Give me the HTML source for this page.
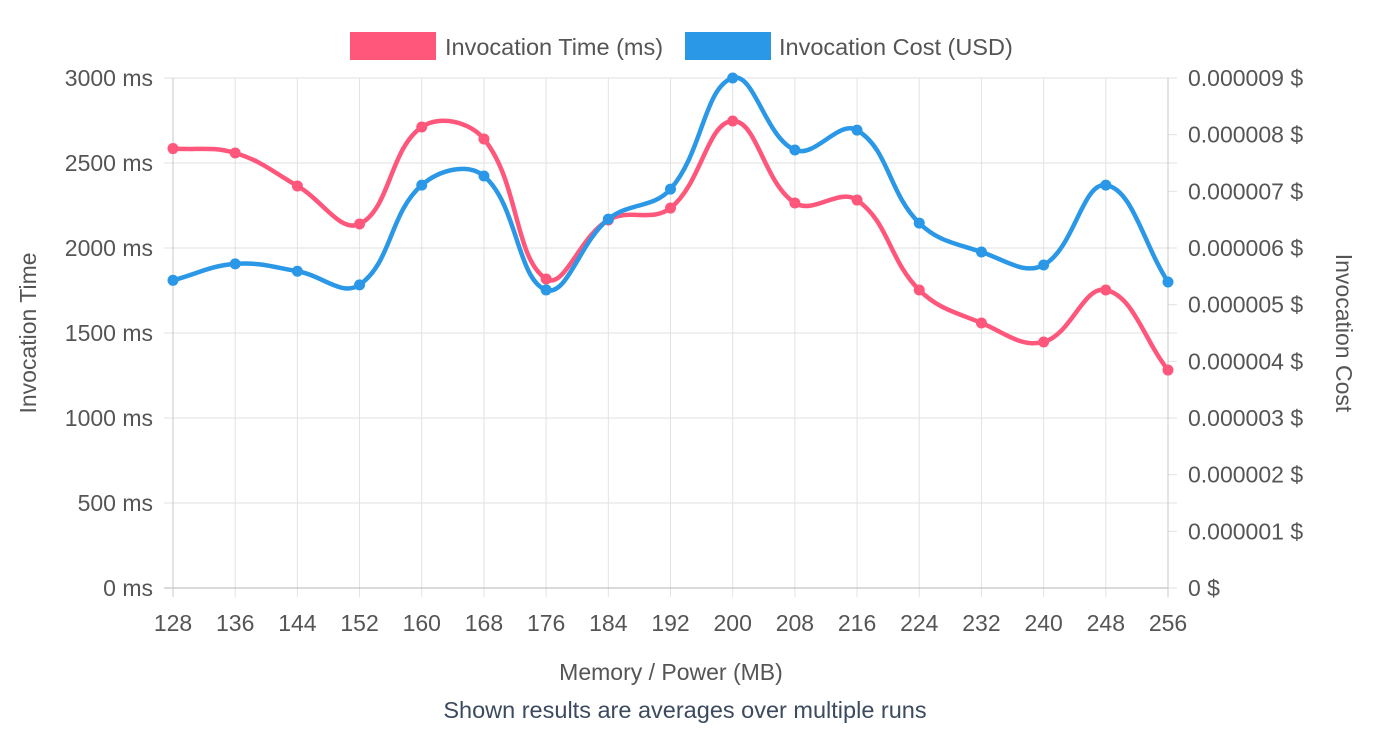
<!DOCTYPE html>
<html><head><meta charset="utf-8"><style>
body{margin:0;background:#fff;font-family:"Liberation Sans",Helvetica,Arial,sans-serif;}
svg text{font-family:"Liberation Sans",Helvetica,Arial,sans-serif;}
</style></head><body>
<svg id="chart" width="1380" height="730" xmlns="http://www.w3.org/2000/svg">
<g id="grid"></g>
<g id="axes"></g>
<g id="series"></g>
<g>
 <g><rect x="350" y="32" width="86" height="28" fill="#ff577b"/><text x="445" y="55" font-size="23.5" fill="#555">Invocation Time (ms)</text></g>
 <g><rect x="685" y="32" width="86" height="28" fill="#2a98e6"/><text x="779" y="55" font-size="23.5" fill="#555">Invocation Cost (USD)</text></g>
</g>
<text transform="translate(36,333) rotate(-90)" text-anchor="middle" font-size="23" fill="#555">Invocation Time</text>
<text transform="translate(1336,333) rotate(90)" text-anchor="middle" font-size="23" fill="#555">Invocation Cost</text>
<text x="671" y="680" text-anchor="middle" font-size="23" fill="#555">Memory / Power (MB)</text>
<text x="685" y="718" text-anchor="middle" font-size="23.5" fill="#3b4a5e">Shown results are averages over multiple runs</text>
</svg>
<script>
const categories=[128,136,144,152,160,168,176,184,192,200,208,216,224,232,240,248,256];
const timeValues=[2585,2559,2365,2141,2712,2641,1818,2165,2235,2747,2265,2282,1753,1559,1447,1753,1282];
const costValues=[5.43e-6,5.72e-6,5.59e-6,5.35e-6,7.11e-6,7.27e-6,5.26e-6,6.51e-6,7.04e-6,9.0e-6,7.73e-6,8.08e-6,6.44e-6,5.93e-6,5.70e-6,7.11e-6,5.40e-6];
const leftTicks=[0,500,1000,1500,2000,2500,3000];
const rightTicks=[0,1e-6,2e-6,3e-6,4e-6,5e-6,6e-6,7e-6,8e-6,9e-6];
const X0=173,X1=1168,Y0=588,Y1=78;
const NS="http://www.w3.org/2000/svg";
const xs=i=>X0+(X1-X0)*i/(categories.length-1);
const yl=v=>Y0-(Y0-Y1)*v/3000;
const yr=v=>Y0-(Y0-Y1)*v/9e-6;
function mk(tag,attrs,parent){const e=document.createElementNS(NS,tag);for(const k in attrs)e.setAttribute(k,attrs[k]);parent.appendChild(e);return e;}
const grid=document.getElementById('grid'),axes=document.getElementById('axes'),ser=document.getElementById('series');
categories.forEach((c,i)=>{
 const l=mk('line',{x1:xs(i),x2:xs(i),y1:Y1,y2:Y0+9,stroke:'#e2e2e2','stroke-width':1},grid);
 
 
 const t=mk('text',{x:xs(i),y:Y0+43,'text-anchor':'middle','font-size':23,fill:'#555'},axes);
 t.textContent=c;
 
 
});
leftTicks.forEach(v=>{
 const l=mk('line',{x1:X0-9,x2:X1+9,y1:yl(v),y2:yl(v),stroke:v===0?'#b5b5b5':'#e2e2e2','stroke-width':1},grid);
 
 
 const t=mk('text',{x:X0-20,y:yl(v)+8,'text-anchor':'end','font-size':23,fill:'#555'},axes);
 t.textContent=v+' ms';
 
 
});
rightTicks.forEach(v=>{
 const l=mk('line',{x1:X1,x2:X1+9,y1:yr(v),y2:yr(v),stroke:'#e2e2e2','stroke-width':1},grid);
 
 
 const t=mk('text',{x:X1+20,y:yr(v)+8,'font-size':23,fill:'#555'},axes);
 t.textContent=(v===0?'0':v.toFixed(6))+' $';
 
 
});
[X0,X1].forEach(x=>{const l=mk('line',{x1:x,x2:x,y1:Y1,y2:Y0+9,stroke:'#c8c8c8','stroke-width':1},grid);
 
 });
function spline(pts){
 const t=0.4;let d='M'+pts[0][0]+','+pts[0][1];
 const cps=pts.map((p,i)=>{
  const prev=pts[Math.max(i-1,0)],next=pts[Math.min(i+1,pts.length-1)];
  const d01=Math.hypot(p[0]-prev[0],p[1]-prev[1]),d12=Math.hypot(next[0]-p[0],next[1]-p[1]);
  let fa=d01/(d01+d12||1),fb=d12/(d01+d12||1);fa=t*fa;fb=t*fb;
  return{p:[p[0]-fa*(next[0]-prev[0]),p[1]-fa*(next[1]-prev[1])],n:[p[0]+fb*(next[0]-prev[0]),p[1]+fb*(next[1]-prev[1])]};
 });
 for(let i=1;i<pts.length;i++){d+=` C${cps[i-1].n[0]},${cps[i-1].n[1]} ${cps[i].p[0]},${cps[i].p[1]} ${pts[i][0]},${pts[i][1]}`;}
 return d;
}
function draw(vals,yf,color,name){
 const pts=vals.map((v,i)=>[xs(i),yf(v)]);
 const p=mk('path',{d:spline(pts),fill:'none',stroke:color,'stroke-width':4.5},ser);
 
 
 pts.forEach(q=>{const c=mk('circle',{cx:q[0],cy:q[1],r:5.5,fill:color},ser);
  
  });
}
draw(timeValues,yl,'#ff577b','time');
draw(costValues,yr,'#2a98e6','cost');
</script>
</body></html>
